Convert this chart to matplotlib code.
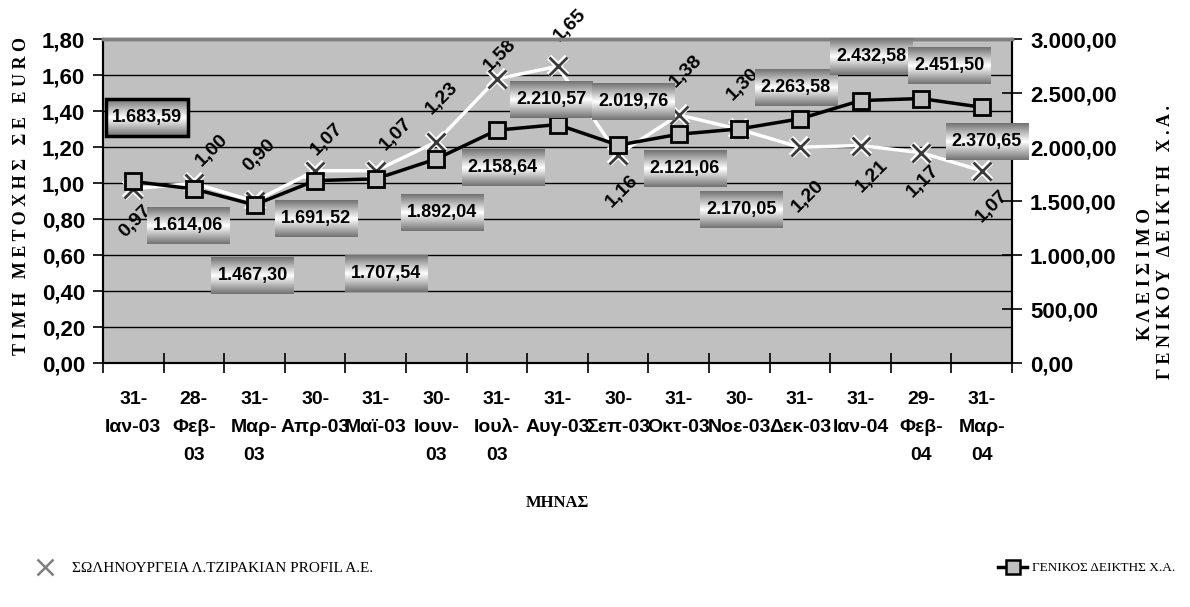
import numpy as np
import matplotlib.pyplot as plt
from matplotlib.lines import Line2D
from matplotlib.patches import Rectangle
from matplotlib.image import BboxImage
from matplotlib.transforms import TransformedBbox, Bbox
from matplotlib.ticker import FuncFormatter

# Δεδομένα
minas = ["31-\nΙαν-03", "28-\nΦεβ-\n03", "31-\nΜαρ-\n03", "30-\nΑπρ-03", "31-\nΜαϊ-03",
         "30-\nΙουν-\n03", "31-\nΙουλ-\n03", "31-\nΑυγ-03", "30-\nΣεπ-03", "31-\nΟκτ-03",
         "30-\nΝοε-03", "31-\nΔεκ-03", "31-\nΙαν-04", "29-\nΦεβ-\n04", "31-\nΜαρ-\n04"]
metoxi = [0.97, 1.00, 0.90, 1.07, 1.07, 1.23, 1.58, 1.65, 1.16, 1.38, 1.30, 1.20, 1.21, 1.17, 1.07]
deiktis = [1683.59, 1614.06, 1467.30, 1691.52, 1707.54, 1892.04, 2158.64, 2210.57,
           2019.76, 2121.06, 2170.05, 2263.58, 2432.58, 2451.50, 2370.65]

# Μετατόπιση ετικετών σε pixel (dx δεξιά, dy κάτω)
off_deiktis = [(14, -64), (-6, 37), (-2, 71), (1, 38), (10, 95), (6, 54), (6, 37), (-6, -25),
               (15, -44), (6, 34), (2, 81), (-4, -31), (11, -44), (28, -33), (5, 34)]
off_metoxi = [(2, 33), (18, -33), (5, -46), (12, -31), (20, -36), (6, -44), (3, -24), (12, -41),
              (4, 37), (7, -44), (4, -45), (8, 49), (11, 31), (2, 29), (10, 36)]

SANS = ['Liberation Sans', 'DejaVu Sans']
SERIF = ['Liberation Serif', 'DejaVu Serif']


def ellhniko(v, dek=2):
    s = f"{v:,.{dek}f}"
    return s.replace(",", "#").replace(".", ",").replace("#", ".")


fig = plt.figure(figsize=(11.9, 6.07), dpi=100)
W, H = 1190, 607
ax = fig.add_axes([103 / W, 1 - 363.3 / H, 909 / W, 324 / H])
ax2 = ax.twinx()

ax.set_facecolor('#c0c0c0')
x = np.arange(len(minas))

# γραμμή μετοχής (λευκή με Χ)
ax.plot(x, metoxi, color='white', lw=2.5, zorder=3)
ax.plot(x, metoxi, ls='none', marker='x', ms=13, mew=4.5, mec='white', zorder=4)
ax.plot(x, metoxi, ls='none', marker='x', ms=13, mew=2, mec='#3a3a3a', zorder=5)

# γραμμή γενικού δείκτη
ax2.plot(x, deiktis, color='black', lw=2.5, marker='s', ms=11, mfc='#c0c0c0',
         mec='black', mew=2, zorder=3)

ax.set_xlim(-0.5, 14.5)
ax.set_ylim(0, 1.8)
ax2.set_ylim(0, 3000)

ax.set_yticks(np.arange(0, 1.81, 0.2))
ax.yaxis.set_major_formatter(FuncFormatter(lambda v, p: ellhniko(v)))
ax2.set_yticks(np.arange(0, 3001, 500))
ax2.yaxis.set_major_formatter(FuncFormatter(lambda v, p: ellhniko(v)))

ax.set_xticks(np.arange(-0.5, 15, 1))
ax.set_xticklabels([])
ax.set_xticks(x, minor=True)
ax.set_xticklabels(minas, minor=True, fontfamily=SANS, fontweight='bold',
                   fontsize=14, linespacing=1.85, va='top')
ax.tick_params(axis='x', which='major', direction='inout', length=14, width=1.2)
ax.tick_params(axis='x', which='minor', length=0, pad=20)
ax.tick_params(axis='y', direction='out', length=7, width=1.2, pad=6)
ax2.tick_params(axis='y', direction='inout', length=14, width=1.2, pad=6)
for lab in ax.get_yticklabels() + ax2.get_yticklabels():
    lab.set_fontfamily(SANS)
    lab.set_fontweight('bold')
    lab.set_fontsize(16)

ax.yaxis.grid(True, color='black', lw=1)
ax.set_axisbelow(True)
for a in (ax, ax2):
    a.spines['top'].set_color('#808080')
    a.spines['top'].set_linewidth(2.5)
    a.spines['left'].set_linewidth(1.5)
    a.spines['bottom'].set_linewidth(1.5)
    a.spines['right'].set_linewidth(1.5)

# ετικέτες τιμών μετοχής
for i, v in enumerate(metoxi):
    dx, dy = off_metoxi[i]
    ax.annotate(ellhniko(v), (x[i], v), xytext=(dx, -dy), textcoords='offset pixels',
                ha='center', va='center', rotation=45, fontfamily=SANS,
                fontweight='bold', fontsize=14, zorder=6)

# ετικέτες γενικού δείκτη
etiketes = []
for i, v in enumerate(deiktis):
    dx, dy = off_deiktis[i]
    t = ax2.annotate(ellhniko(v), (x[i], v), xytext=(dx, -dy), textcoords='offset pixels',
                     ha='center', va='center', fontfamily=SANS, fontweight='bold',
                     fontsize=13, zorder=8)
    etiketes.append(t)

# τίτλοι αξόνων
fig.text(22 / W, 1 - 196 / H, "Τ Ι Μ Η   Μ Ε Τ Ο Χ Η Σ   Σ Ε   E U R O", rotation=90,
         ha='center', va='center', fontfamily=SERIF, fontweight='bold', fontsize=13)
fig.text(1145 / W, 1 - 274 / H, "Κ Λ Ε Ι Σ Ι Μ Ο", rotation=90,
         ha='center', va='center', fontfamily=SERIF, fontweight='bold', fontsize=13.5)
fig.text(1166 / W, 1 - 242 / H, "Γ Ε Ν Ι Κ Ο Υ   Δ Ε Ι Κ Τ Η   Χ . Α .", rotation=90,
         ha='center', va='center', fontfamily=SERIF, fontweight='bold', fontsize=13)
fig.text(557 / W, 1 - 503 / H, "ΜΗΝΑΣ", ha='center', va='center',
         fontfamily=SERIF, fontweight='bold', fontsize=12)

# υπόμνημα
h1 = Line2D([], [], color='white', lw=2, marker='x', ms=11, mew=1.8, mec='#7f7f7f')
h2 = Line2D([], [], color='black', lw=2.5, marker='s', ms=10, mfc='#c0c0c0', mec='black', mew=1.8)
fig.legend([h1], ["ΣΩΛΗΝΟΥΡΓΕΙΑ Λ.ΤΖΙΡΑΚΙΑΝ PROFIL Α.Ε."], loc='center left',
           bbox_to_anchor=(25 / W, 1 - 568 / H), frameon=False, borderpad=0,
           borderaxespad=0, handlelength=2.6, handletextpad=0.5,
           prop={'family': SERIF, 'size': 11})
fig.legend([h2], ["ΓΕΝΙΚΟΣ ΔΕΙΚΤΗΣ Χ.Α."], loc='center left',
           bbox_to_anchor=(998 / W, 1 - 568 / H), frameon=False, borderpad=0,
           borderaxespad=0, handlelength=2.2, handletextpad=0.4,
           prop={'family': SERIF, 'size': 9.5})

# πλαίσια ετικετών με διαβάθμιση γκρι
t_ = np.linspace(0, 1, 64)
g = 1 - 0.55 * np.abs(t_ - 0.5) / 0.5
grad = np.repeat(g[:, None, None], 3, axis=2)
fig.canvas.draw()
r = fig.canvas.get_renderer()
for i, t in enumerate(etiketes):
    bb = t.get_window_extent(r)
    cx, cy = (bb.x0 + bb.x1) / 2, (bb.y0 + bb.y1) / 2
    w, h = bb.width + 12, 37
    box = Bbox.from_extents(cx - w / 2, cy - h / 2, cx + w / 2, cy + h / 2)
    bbf = box.transformed(fig.transFigure.inverted())
    im = BboxImage(TransformedBbox(bbf, fig.transFigure), interpolation='bilinear', zorder=7)
    im.set_data(grad)
    ax2.add_artist(im)
    im.set_clip_on(False)
    if i == 0:
        fig.add_artist(Rectangle((bbf.x0, bbf.y0), bbf.width, bbf.height, fill=False,
                                 ec='black', lw=2.5, transform=fig.transFigure, zorder=5))

fig.savefig('out.png', dpi=100)
